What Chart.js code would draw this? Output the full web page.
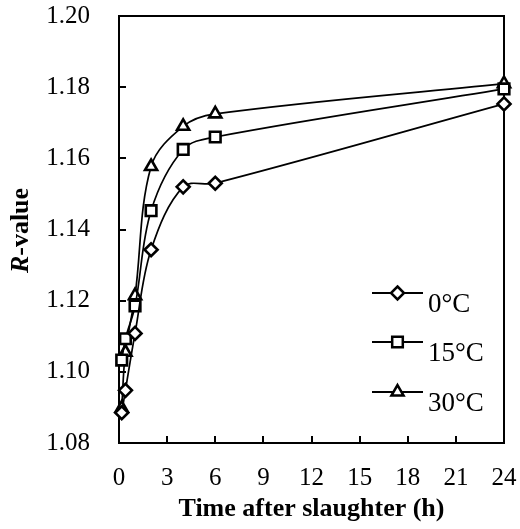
<!DOCTYPE html>
<html>
<head>
<meta charset="utf-8">
<script src="https://cdn.jsdelivr.net/npm/chart.js@4.4.0/dist/chart.umd.min.js"></script>
<style>
  html, body { margin: 0; padding: 0; background: #fff; }
</style>
</head>
<body>
<canvas id="grafico" width="520" height="529"></canvas>
<script>
// tempo após abate (h)
const horas = [0.17, 0.4, 1, 2, 4, 6, 24];
// R-value por temperatura
const r0 = [1.0885, 1.0948, 1.1108, 1.1343, 1.1520, 1.1530, 1.1753];
const r15 = [1.1033, 1.1093, 1.1185, 1.1453, 1.1625, 1.1660, 1.1795];
const r30 = [1.0898, 1.1055, 1.1214, 1.1577, 1.1690, 1.1725, 1.1810];
const temperaturas = ['0°C', '15°C', '30°C'];
const estilos = ['rectRot', 'rect', 'triangle'];
const raios = [6.5, 7.5, 7];
const ticksX = [0, 3, 6, 9, 12, 15, 18, 21, 24];
const ticksY = [1.08, 1.10, 1.12, 1.14, 1.16, 1.18, 1.20];

const FONTE = '"Liberation Serif", "Times New Roman", serif';

function pontos(ys) {
  return horas.map((h, i) => ({ x: h, y: ys[i] }));
}

// desenha um marcador (usado na legenda)
function marcador(ctx, estilo, x, y, r) {
  ctx.beginPath();
  if (estilo === 'rectRot') {
    ctx.moveTo(x, y - r); ctx.lineTo(x + r, y); ctx.lineTo(x, y + r); ctx.lineTo(x - r, y);
  } else if (estilo === 'rect') {
    const s = r / Math.SQRT2;
    ctx.rect(x - s, y - s, 2 * s, 2 * s);
  } else {
    for (let k = 0; k < 3; k++) {
      const a = -Math.PI / 2 + k * 2 * Math.PI / 3;
      const px = x + Math.cos(a) * r, py = y + Math.sin(a) * r;
      k === 0 ? ctx.moveTo(px, py) : ctx.lineTo(px, py);
    }
  }
  ctx.closePath();
  ctx.fillStyle = '#fff';
  ctx.fill();
  ctx.stroke();
}

// ==================== MOLDURA, TICKS INTERNOS ====================
const moldura = {
  id: 'moldura',
  beforeDatasetsDraw(chart) {
    const { ctx, chartArea: a, scales } = chart;
    ctx.save();
    ctx.strokeStyle = '#000';
    ctx.lineWidth = 2;
    ctx.strokeRect(a.left, a.top, a.right - a.left, a.bottom - a.top);
    ctx.beginPath();
    ticksX.forEach(t => {
      const px = Math.round(scales.x.getPixelForValue(t));
      ctx.moveTo(px, a.bottom); ctx.lineTo(px, a.bottom - 7);
    });
    ticksY.forEach(t => {
      const py = Math.round(scales.y.getPixelForValue(t));
      ctx.moveTo(a.left, py); ctx.lineTo(a.left + 7, py);
    });
    ctx.stroke();
    ctx.restore();
  },
  afterDraw(chart) {
    const { ctx, chartArea: a } = chart;
    ctx.save();
    // título do eixo y: "R" itálico + "-value"
    ctx.translate(21, (a.top + a.bottom) / 2 + 1);
    ctx.rotate(-Math.PI / 2);
    ctx.fillStyle = '#000';
    ctx.textBaseline = 'middle';
    const f1 = 'italic bold 26px ' + FONTE;
    const f2 = 'bold 26px ' + FONTE;
    ctx.font = f1; const w1 = ctx.measureText('R').width;
    ctx.font = f2; const w2 = ctx.measureText('-value').width;
    let x0 = -(w1 + w2) / 2;
    ctx.font = f1; ctx.fillText('R', x0, 0);
    ctx.font = f2; ctx.fillText('-value', x0 + w1, 0);
    ctx.restore();

    // legenda
    ctx.save();
    const linhaY = [293, 342, 392];
    chart.data.datasets.forEach((ds, i) => {
      const y = linhaY[i];
      ctx.strokeStyle = '#000';
      ctx.lineWidth = 2;
      ctx.beginPath(); ctx.moveTo(372, y); ctx.lineTo(423, y); ctx.stroke();
      ctx.lineWidth = 2.5;
      marcador(ctx, estilos[i], 397.5, y, raios[i]);
      ctx.fillStyle = '#000';
      ctx.font = '27px ' + FONTE;
      ctx.textBaseline = 'middle';
      ctx.fillText(ds.label, 428, y + 12);
    });
    ctx.restore();
  }
};

const conjuntos = [r0, r15, r30].map((ys, i) => ({
  label: temperaturas[i],
  data: pontos(ys),
  borderColor: '#000',
  borderWidth: 1.7,
  pointStyle: estilos[i],
  pointRadius: raios[i],
  pointBorderWidth: 2.6,
  pointBackgroundColor: '#fff',
  pointBorderColor: '#000',
  tension: 0.35,
  clip: false,
  fill: false
}));

// zera o padding que o Chart.js reserva para os rótulos
function semPadding(s) {
  s.paddingTop = 0; s.paddingBottom = 0;
  s.paddingLeft = 0; s.paddingRight = 0;
}

new Chart(document.getElementById('grafico'), {
  type: 'line',
  data: { datasets: conjuntos },
  options: {
    responsive: false,
    animation: false,
    events: [],
    layout: { padding: { left: 0, right: 16, top: 16, bottom: 0 } },
    plugins: { legend: { display: false }, tooltip: { enabled: false } },
    scales: {
      x: {
        type: 'linear',
        min: 0, max: 24,
        afterBuildTicks: s => { s.ticks = ticksX.map(v => ({ value: v })); },
        grid: { display: false },
        border: { display: false },
        ticks: {
          color: '#000',
          font: { family: FONTE, size: 25 },
          padding: 12,
          maxRotation: 0,
          callback: v => String(v)
        },
        title: {
          display: true,
          text: 'Time after slaughter (h)',
          color: '#000',
          font: { family: FONTE, size: 26, weight: 'bold' },
          padding: { top: 0, bottom: 4 }
        },
        afterFit: s => { s.height = 86; semPadding(s); }
      },
      y: {
        min: 1.08, max: 1.20,
        afterBuildTicks: s => { s.ticks = ticksY.map(v => ({ value: v })); },
        grid: { display: false },
        border: { display: false },
        ticks: {
          color: '#000',
          font: { family: FONTE, size: 25 },
          padding: 21,
          callback: v => v.toFixed(2)
        },
        afterFit: s => { s.width = 119; semPadding(s); }
      }
    }
  },
  plugins: [moldura]
});
</script>
</body>
</html>
